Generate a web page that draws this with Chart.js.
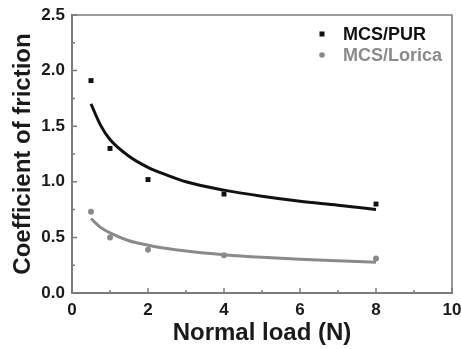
<!DOCTYPE html>
<html><head><meta charset="utf-8">
<script src="https://cdn.jsdelivr.net/npm/chart.js@4"></script>
<style>html,body{margin:0;padding:0;background:#fff}</style>
</head><body>
<canvas id="c" width="461" height="349"></canvas>
<script>
// measured data
const loadN = [0.5, 1, 2, 4, 8];
const purCOF = [1.91, 1.30, 1.02, 0.89, 0.80];
const loricaCOF = [0.73, 0.50, 0.39, 0.34, 0.31];
// fitted curves
const fitLoad = [0.5, 0.75, 1, 1.5, 2, 2.5, 3, 4, 5, 6, 7, 8];
const purFit = [1.70, 1.51, 1.38, 1.23, 1.13, 1.06, 1.00, 0.925, 0.87, 0.825, 0.79, 0.75];
const loricaFit = [0.67, 0.59, 0.54, 0.47, 0.43, 0.40, 0.378, 0.345, 0.321, 0.303, 0.289, 0.276];
// axis ticks
const xTicks = [0, 2, 4, 6, 8, 10];
const xMinorTicks = [1, 3, 5, 7, 9];
const yTicks = [0.0, 0.5, 1.0, 1.5, 2.0, 2.5];
const yMinorTicks = [0.25, 0.75, 1.25, 1.75, 2.25];
const seriesNames = ['MCS/PUR', 'MCS/Lorica'];

const BLACK = '#111111';
const GRAY = '#8a8a8a';
const AXIS = '#7a7a7a';
const FONT = '"Liberation Sans", Arial, sans-serif';

const pts = (xs, ys) => xs.map((x, i) => ({x: x, y: ys[i]}));
function yTickLabelsFor(v) { return Number(v).toFixed(1); }

const frame = {
  id: 'frame',
  afterDraw(chart) {
    const {ctx, chartArea: a, scales: {x, y}} = chart;
    ctx.save();
    ctx.strokeStyle = AXIS;
    ctx.lineWidth = 1.5;
    ctx.beginPath();
    ctx.moveTo(a.left, a.top); ctx.lineTo(a.right, a.top); ctx.lineTo(a.right, a.bottom);
    ctx.stroke();
    ctx.beginPath();
    xTicks.forEach(v => { const p = x.getPixelForValue(v); ctx.moveTo(p, a.bottom); ctx.lineTo(p, a.bottom - 5); });
    xMinorTicks.forEach(v => { const p = x.getPixelForValue(v); ctx.moveTo(p, a.bottom); ctx.lineTo(p, a.bottom - 3); });
    yTicks.forEach(v => { const p = y.getPixelForValue(v); ctx.moveTo(a.left, p); ctx.lineTo(a.left + 5, p); });
    yMinorTicks.forEach(v => { const p = y.getPixelForValue(v); ctx.moveTo(a.left, p); ctx.lineTo(a.left + 3, p); });
    ctx.stroke();
    // legend
    const lx = a.right - 130, tx = a.right - 109;
    const rows = [a.top + 19, a.top + 40];
    ctx.font = 'bold 18px ' + FONT;
    ctx.textBaseline = 'middle';
    ctx.textAlign = 'left';
    ctx.fillStyle = BLACK;
    ctx.fillRect(lx - 2.5, rows[0] - 2.5, 5, 5);
    ctx.fillText(chart.data.datasets[0].label, tx, rows[0] + 1);
    ctx.fillStyle = GRAY;
    ctx.beginPath(); ctx.arc(lx, rows[1], 2.8, 0, Math.PI * 2); ctx.fill();
    ctx.fillText(chart.data.datasets[1].label, tx, rows[1] + 1);
    ctx.restore();
  }
};

new Chart(document.getElementById('c'), {
  type: 'scatter',
  data: {
    datasets: [
      {label: seriesNames[0], data: pts(loadN, purCOF), pointStyle: 'rect', pointRadius: 3.5,
       backgroundColor: BLACK, borderColor: BLACK, borderWidth: 0, showLine: false, order: 1},
      {label: seriesNames[1], data: pts(loadN, loricaCOF), pointStyle: 'circle', pointRadius: 3,
       backgroundColor: GRAY, borderColor: GRAY, borderWidth: 0, showLine: false, order: 1},
      {label: 'PUR fit', data: pts(fitLoad, purFit), showLine: true, pointRadius: 0,
       borderColor: BLACK, borderWidth: 3, cubicInterpolationMode: 'monotone', order: 2},
      {label: 'Lorica fit', data: pts(fitLoad, loricaFit), showLine: true, pointRadius: 0,
       borderColor: GRAY, borderWidth: 3, cubicInterpolationMode: 'monotone', order: 2}
    ]
  },
  options: {
    responsive: false,
    animation: false,
    devicePixelRatio: 1,
    layout: {padding: {top: 15, right: 9, left: 0, bottom: 0}},
    plugins: {legend: {display: false}, tooltip: {enabled: false}},
    scales: {
      x: {
        type: 'linear', min: 0, max: 10,
        afterBuildTicks: s => { s.ticks = xTicks.map(v => ({value: v})); },
        afterFit: s => { s.height = 56; s.paddingLeft = 0; s.paddingRight = 0; },
        grid: {display: false, drawTicks: false},
        border: {display: true, color: AXIS, width: 2},
        ticks: {padding: 7, color: '#1a1a1a', font: {family: FONT, size: 17, weight: 'bold'},
                callback: (v) => xTicks.indexOf(v) >= 0 ? String(v) : ''},
        title: {display: true, text: 'Normal load (N)', color: '#1a1a1a',
                font: {family: FONT, size: 24, weight: 'bold', lineHeight: 1}, padding: {top: 0, bottom: 4}}
      },
      y: {
        type: 'linear', min: 0, max: 2.5,
        afterBuildTicks: s => { s.ticks = yTicks.map(v => ({value: v})); },
        afterFit: s => { s.width = 72; s.paddingTop = 0; s.paddingBottom = 0; },
        grid: {display: false, drawTicks: false},
        border: {display: true, color: AXIS, width: 2},
        ticks: {padding: 7, color: '#1a1a1a', font: {family: FONT, size: 17, weight: 'bold'},
                callback: (v) => yTickLabelsFor(v)},
        title: {display: true, text: 'Coefficient of friction', color: '#1a1a1a',
                font: {family: FONT, size: 24, weight: 'bold', lineHeight: 1}, padding: {top: 11, bottom: 0}}
      }
    }
  },
  plugins: [frame]
});
</script>
</body></html>
